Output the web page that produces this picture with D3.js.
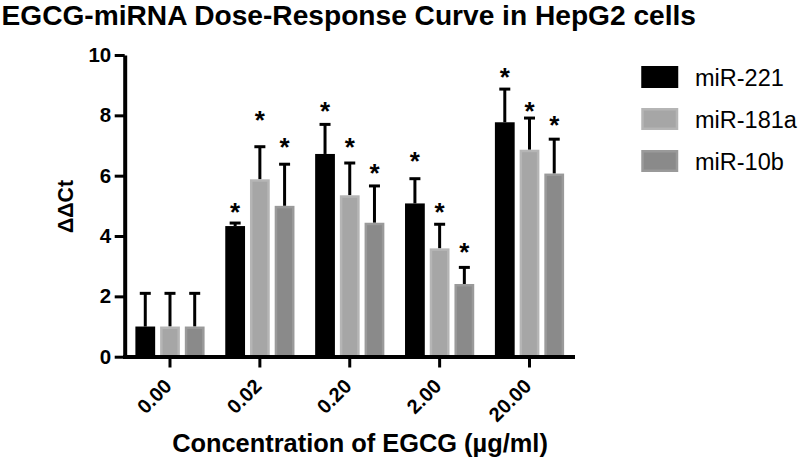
<!DOCTYPE html>
<html><head><meta charset="utf-8">
<script src="https://cdn.jsdelivr.net/npm/d3@7"></script>
<style>body{margin:0;background:#fff}svg{display:block}text{font-family:"Liberation Sans",Arial,sans-serif}</style>
</head><body>
<svg id="c" width="799" height="461"></svg>
<script>
const categories = ["0.00","0.02","0.20","2.00","20.00"];
const seriesNames = ["miR-221","miR-181a","miR-10b"];
const miR221 = [1.0, 4.33, 6.72, 5.08, 7.77];
const miR221Err = [1.1, 0.1, 0.98, 0.82, 1.1];
const miR181a = [1.0, 5.88, 5.35, 3.59, 6.86];
const miR181aErr = [1.1, 1.08, 1.07, 0.8, 1.05];
const miR10b = [1.0, 5.0, 4.44, 2.41, 6.07];
const miR10bErr = [1.1, 1.38, 1.22, 0.55, 1.14];
// significance markers (*) with the ΔΔCt level at which each is drawn (null = none)
const miR221Star = [null, 4.97, 8.32, 6.66, 9.45];
const miR181aStar = [null, 8.0, 7.13, 4.97, 8.32];
const miR10bStar = [null, 7.13, 6.26, 3.65, 7.85];
const yTicks = [0,2,4,6,8,10];
const fills = ["#000000","#a6a6a6","#8a8a8a"];
const strokes = ["#000000","#b5b5b5","#9a9a9a"];

const values = [miR221, miR181a, miR10b];
const errs = [miR221Err, miR181aErr, miR10bErr];
const stars = [miR221Star, miR181aStar, miR10bStar];
const svg = d3.select("#c");
const x = d3.scaleBand().domain(categories).range([125.5, 574]).paddingInner(0.23).paddingOuter(0.11);
const xs = d3.scaleBand().domain(seriesNames).range([0, x.bandwidth()]).paddingInner(0.2);
const y = d3.scaleLinear().domain([0,10]).range([356.7, 55]);

function fit(sel, target) {
  const w = sel.node().getComputedTextLength();
  sel.attr("font-size", (+sel.attr("font-size")) * target / w);
  return sel;
}

const title = svg.append("text").attr("x", 1.5).attr("y", 25).attr("font-size", 27).attr("font-weight", "bold")
  .text("EGCG-miRNA Dose-Response Curve in HepG2 cells");
fit(title, 695);

const g = svg.append("g");
seriesNames.forEach((s, si) => {
  categories.forEach((c, ci) => {
    const v = values[si][ci], e = errs[si][ci];
    const bx = x(c) + xs(s), bw = xs.bandwidth();
    const cx = bx + bw/2;
    g.append("line").attr("x1", cx).attr("x2", cx).attr("y1", y(v)).attr("y2", y(v+e))
      .attr("stroke", "#000").attr("stroke-width", 3);
    g.append("line").attr("x1", cx-5.5).attr("x2", cx+5.5).attr("y1", y(v+e)).attr("y2", y(v+e))
      .attr("stroke", "#000").attr("stroke-width", 3);
    g.append("rect").attr("x", bx+1.25).attr("y", y(v)+1.25).attr("width", bw-2.5).attr("height", y(0)-y(v)-1.25)
      .attr("fill", fills[si]).attr("stroke", strokes[si]).attr("stroke-width", 2.5);
    const st = stars[si][ci];
    if (st !== null) {
      g.append("text").attr("x", cx).attr("y", y(st)+14).attr("text-anchor","middle")
        .attr("font-size", 26).attr("font-weight","bold").text("*");
    }
  });
});

// y axis
const yAxis = d3.axisLeft(y).tickValues(yTicks).tickSize(10).tickSizeOuter(0);
const ya = svg.append("g").attr("transform","translate(124.7,0)").call(yAxis);
ya.select(".domain").attr("stroke-width",4);
ya.selectAll(".tick line").attr("stroke-width",3);
ya.selectAll(".tick text").attr("font-size",20.5).attr("font-weight","bold").attr("x",-13.5).attr("fill","#000")
  .attr("font-family","Liberation Sans, Arial, sans-serif");

// x axis
const xAxis = d3.axisBottom(x).tickSize(11).tickSizeOuter(0);
const xa = svg.append("g").attr("transform","translate(0,356.5)").call(xAxis);
xa.select(".domain").attr("stroke-width",4).attr("d","M123,0.5H575");
xa.selectAll(".tick line").attr("stroke-width",3);
xa.selectAll(".tick text").attr("font-size",20).attr("font-weight","bold").attr("fill","#000")
  .attr("font-family","Liberation Sans, Arial, sans-serif")
  .attr("text-anchor","end").attr("dy",0).attr("y",0).attr("x",0)
  .attr("transform","translate(3,31) rotate(-45)");

const xt = svg.append("text").attr("x",360).attr("y",452).attr("text-anchor","middle").attr("font-size",23)
  .attr("font-weight","bold").text("Concentration of EGCG (µg/ml)");
fit(xt, 376);
const yt = svg.append("text").attr("transform","translate(73,206.5) rotate(-90)").attr("text-anchor","middle")
  .attr("font-size",21).attr("font-weight","bold").text("ΔΔCt");
fit(yt, 53);

// legend
const lg = svg.append("g");
seriesNames.forEach((s, i) => {
  const ly = 66 + i*42;
  lg.append("rect").attr("x",642.5).attr("y",ly+1.25).attr("width",34.5).attr("height",19.5)
    .attr("fill",fills[i]).attr("stroke",strokes[i]).attr("stroke-width",2.5);
  lg.append("text").attr("x",695).attr("y",ly+20).attr("font-size",23.5).text(s);
});
</script>
</body></html>
